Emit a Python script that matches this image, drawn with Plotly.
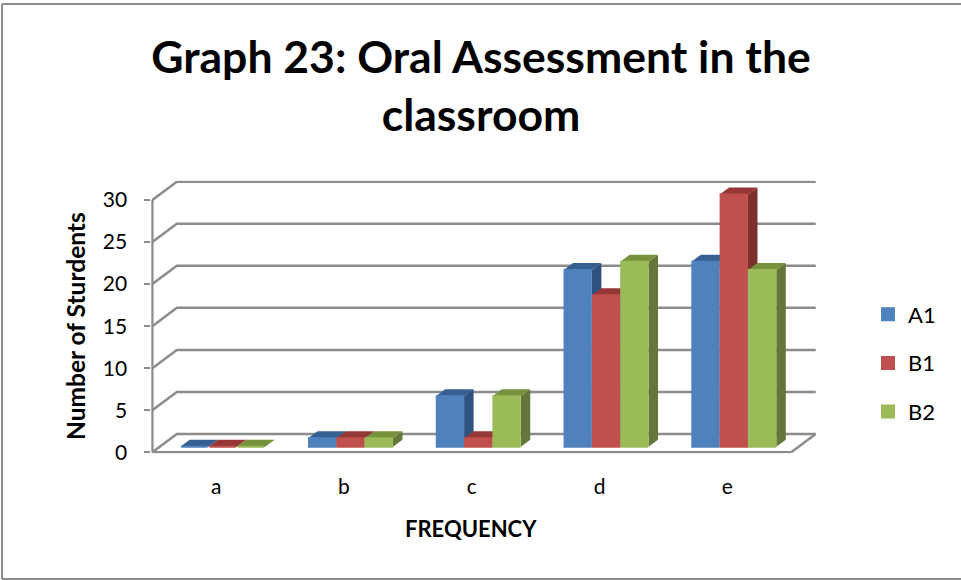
import plotly.graph_objects as go

categories = ["a", "b", "c", "d", "e"]
series_names = ["A1", "B1", "B2"]
a1_values = [0, 1, 6, 21, 22]
b1_values = [0, 1, 1, 18, 30]
b2_values = [0, 1, 6, 22, 21]
y_ticks = [0, 5, 10, 15, 20, 25, 30]

front_colors = ["#4F81BD", "#C0504D", "#9BBB59"]
top_colors = ["#376092", "#953735", "#76923C"]
side_colors = ["#2E527F", "#7B302E", "#64763A"]
grid_color = "#8C8C8C"
text_color = "#000000"
FONT = "Lato, Carlito, Calibri, sans-serif"

# pseudo-3D projection, in data units
W, H = 961, 580
wall_dx, wall_dy = 0.192, 2.18
inset_dx, inset_dy = 0.051, 0.667
bar_dx, bar_dy = 0.0744, 0.83
bar_w = 0.2217

# pixel frame of the plot area
L, R, T, B = 151.3, 816.7, 180.7, 453.3
px_x = (790.7 - 152.3) / len(categories)
px_y = (452.3 - 200) / 30
pad_x, pad_y = 1 / px_x, 1 / px_y

series = [a1_values, b1_values, b2_values]
fig = go.Figure()

# back wall, side wall, floor and the two front axis lines
gx, gy = [], []
x0, x1 = -0.5, len(categories) - 0.5
for v in y_ticks:
    gx += [x0, x0 + wall_dx, x1 + wall_dx, None]
    gy += [v, v + wall_dy, v + wall_dy, None]
gx += [x1, x1 + wall_dx, None, x0, x1, None, x0, x0, None]
gy += [0, wall_dy, None, 0, 0, None, 0, y_ticks[-1], None]
fig.add_trace(go.Scatter(x=gx, y=gy, mode="lines", line=dict(color=grid_color, width=2.5),
                         showlegend=False, hoverinfo="skip", zorder=0))

# top and side faces of each bar
for s, vals in enumerate(series):
    tx, ty, sx, sy = [], [], [], []
    for i, v in enumerate(vals):
        left = i + inset_dx + (s - 1.5) * bar_w
        right = left + bar_w
        top = v + inset_dy
        tx += [left, right, right + bar_dx, left + bar_dx, left, None]
        ty += [top, top, top + bar_dy, top + bar_dy, top, None]
        sx += [right, right + bar_dx, right + bar_dx, right, right, None]
        sy += [inset_dy, inset_dy + bar_dy, top + bar_dy, top, inset_dy, None]
    fig.add_trace(go.Scatter(x=sx, y=sy, mode="lines", fill="toself", fillcolor=side_colors[s],
                             line=dict(width=0), showlegend=False,
                             hoverinfo="skip", zorder=1))
    fig.add_trace(go.Scatter(x=tx, y=ty, mode="lines", fill="toself", fillcolor=top_colors[s],
                             line=dict(width=0), showlegend=False,
                             hoverinfo="skip", zorder=1))

# front faces
line_w = 2
for s, vals in enumerate(series):
    fig.add_trace(go.Bar(
        x=[i + inset_dx + (s - 1) * bar_w for i in range(len(categories))],
        y=vals,
        base=inset_dy,
        width=bar_w - line_w / px_x,
        name=series_names[s],
        marker=dict(color=front_colors[s], line=dict(color=front_colors[s], width=line_w)),
        legendgroup=series_names[s],
        zorder=2,
    ))

fig.update_layout(
    width=W, height=H,
    margin=dict(l=0, r=0, t=0, b=0),
    paper_bgcolor="white", plot_bgcolor="rgba(0,0,0,0)",
    barmode="overlay",
    font=dict(family=FONT, color=text_color),
    title=dict(
        text="<b>Graph 23: Oral Assessment in the<br>classroom</b>",
        font=dict(size=44.5, family=FONT, color=text_color),
        x=481 / W, xanchor="center", y=1 - 73 / H, yanchor="top", automargin=False,
    ),
    xaxis=dict(
        domain=[L / W, R / W], range=[x0 - pad_x, x1 + wall_dx + pad_x],
        tickmode="array", tickvals=list(range(len(categories))), ticktext=categories,
        ticks="", showgrid=False, zeroline=False, showline=False, automargin=False,
        tickfont=dict(size=21), ticklabelstandoff=19,
    ),
    yaxis=dict(
        domain=[1 - B / H, 1 - T / H], range=[-pad_y, y_ticks[-1] + wall_dy + pad_y],
        tickmode="array", tickvals=y_ticks,
        ticks="outside", ticklen=6, tickwidth=2, tickcolor=grid_color,
        showgrid=False, zeroline=False, showline=False, automargin=False,
        tickfont=dict(size=21), ticklabelstandoff=13,
    ),
    legend=dict(
        x=868 / W, xanchor="left", y=1 - 363 / H, yanchor="middle",
        font=dict(size=22), tracegroupgap=17, bgcolor="rgba(0,0,0,0)",
    ),
    annotations=[
        dict(text="<b>FREQUENCY</b>", xref="paper", yref="paper", x=471 / W, y=1 - 528 / H,
             xanchor="center", yanchor="middle", showarrow=False, font=dict(size=22)),
        dict(text="<b>Number of Sturdents</b>", xref="paper", yref="paper", x=75 / W, y=1 - 326 / H,
             xanchor="center", yanchor="middle", showarrow=False, textangle=-90, font=dict(size=24.5)),
    ],
    shapes=[
        dict(type="line", xref="paper", yref="paper", x0=2 / W, x1=1, y0=1 - 4 / H, y1=1 - 4 / H,
             line=dict(color=grid_color, width=2)),
        dict(type="line", xref="paper", yref="paper", x0=2 / W, x1=2 / W, y0=1 - 4 / H, y1=1 / H,
             line=dict(color=grid_color, width=2)),
        dict(type="line", xref="paper", yref="paper", x0=2 / W, x1=1, y0=1 / H, y1=1 / H,
             line=dict(color=grid_color, width=2)),
    ],
)

fig.write_html("out.html", config=dict(displayModeBar=False),
               post_script="document.body.style.margin='0';")
